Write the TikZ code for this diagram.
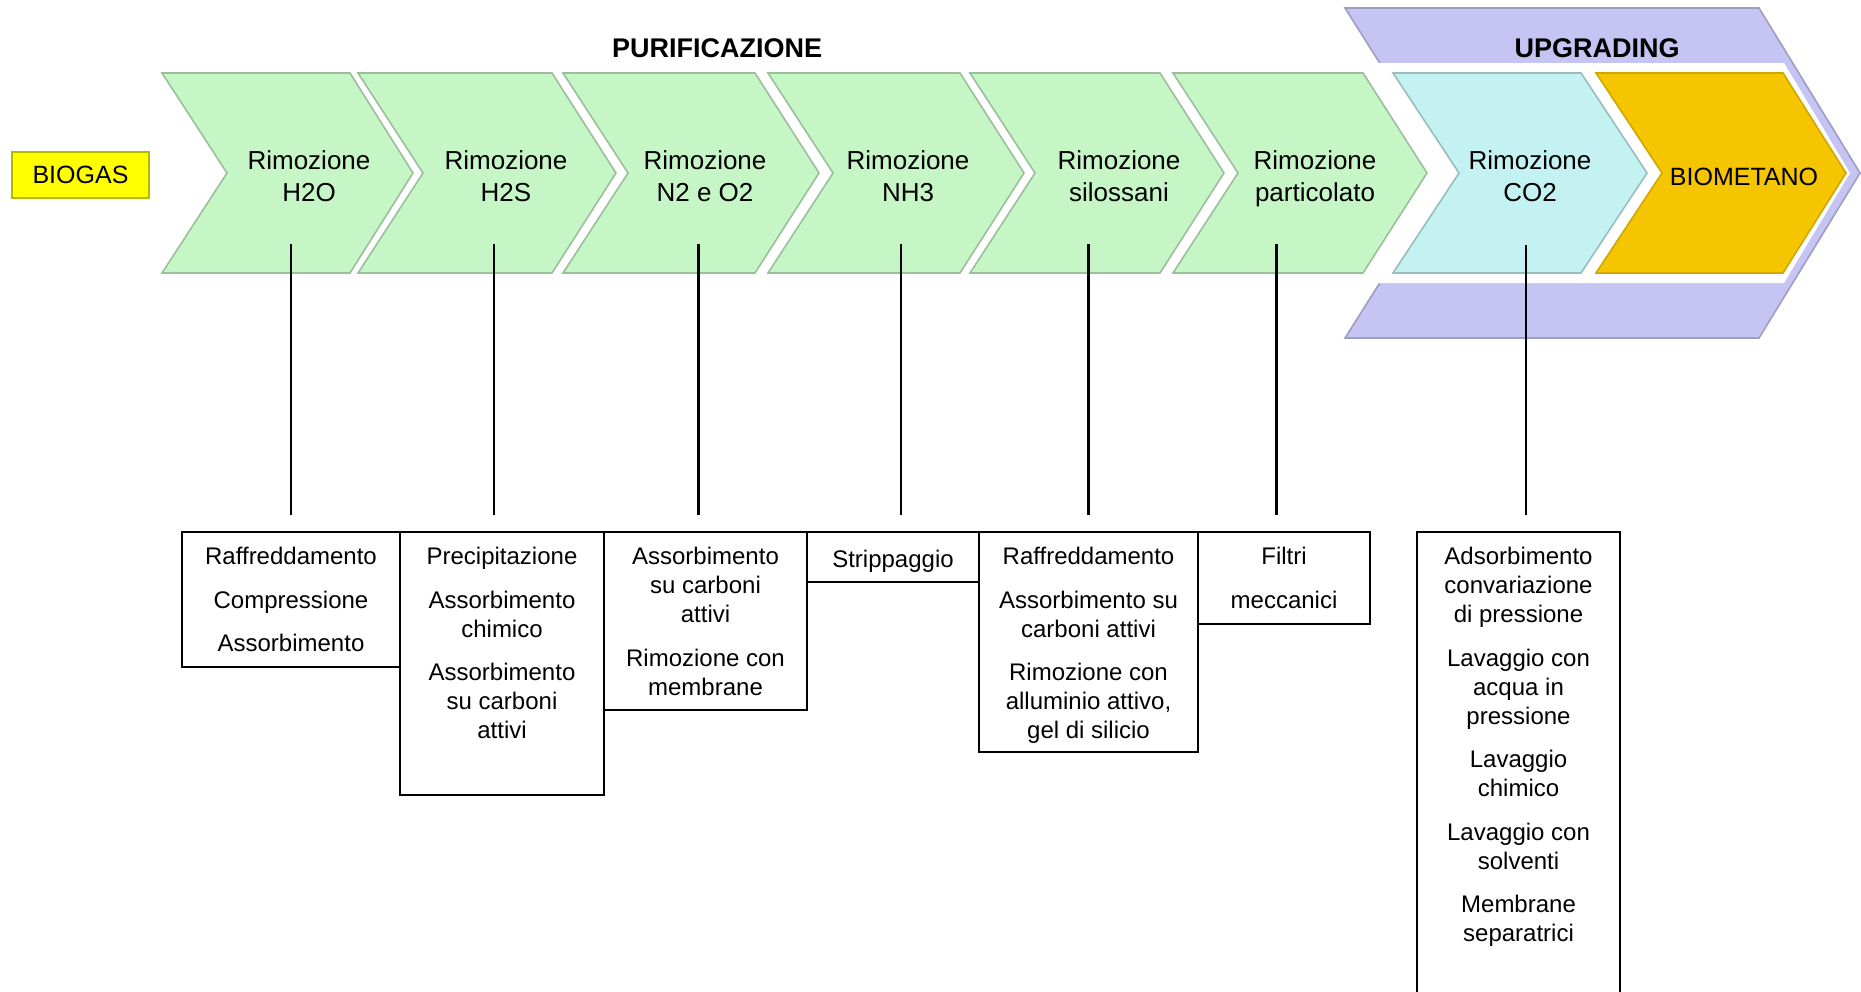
\documentclass[tikz,border=0pt]{standalone}
\usepackage{fontspec}
\setmainfont{Liberation Sans}
\usepackage{tikz}
\usetikzlibrary{positioning}
\definecolor{stepgreen}{RGB}{198,245,198}
\definecolor{stepcyan}{RGB}{196,242,242}
\definecolor{stepgold}{RGB}{245,197,0}
\definecolor{bandpurple}{RGB}{197,196,242}
\definecolor{biogasyellow}{RGB}{255,255,0}
\tikzstyle{green step}=[fill=stepgreen,draw=stepgreen!78!black,line width=0.8pt]
\tikzstyle{cyan step}=[fill=stepcyan,draw=stepcyan!78!black,line width=0.8pt]
\tikzstyle{gold step}=[fill=stepgold,draw=stepgold!85!black,line width=0.8pt]
\tikzstyle{band}=[fill=bandpurple,draw=bandpurple!80!black,line width=0.8pt]
\tikzstyle{step label}=[align=center,inner sep=0pt,anchor=north,font=\fontsize{13}{16}\selectfont,execute at begin node=\strut]
\tikzstyle{gold label}=[inner sep=0pt,anchor=base,font=\fontsize{12.5}{15}\selectfont]
\tikzstyle{biogas}=[rectangle,fill=biogasyellow,draw=biogasyellow!72!black,line width=1pt,minimum width=68.5pt,minimum height=23pt,inner sep=0pt,font=\fontsize{12.5}{15}\selectfont]
\tikzstyle{title}=[inner sep=0pt,anchor=base,font=\fontsize{13.5}{16}\selectfont\bfseries]
\tikzstyle{box}=[rectangle,draw,line width=1.1pt,inner sep=0pt]
\tikzstyle{box label}=[align=center,inner sep=0pt,font=\fontsize{12}{14.5}\selectfont,execute at begin node=\strut]
\tikzstyle{edge}=[draw,line width=1pt,-]
\tikzstyle{thick edge}=[draw,line width=1.5pt,-]

\begin{document}
\begin{tikzpicture}[x=0.5pt,y=-0.5pt]
        \useasboundingbox (0,0) rectangle (1861,991);
        % upgrading frame
        \draw[band] (1345,8) -- (1759,8) -- (1860,173) -- (1759,338) -- (1345,338) -- (1449,173) -- cycle;
        \fill[white] (1340,63) -- (1784,63) -- (1850,173) -- (1784,283) -- (1340,283) -- cycle;
        % steps
        \draw[green step] (162,73) -- ++(188,0) -- ++(63,100) -- ++(-63,100) -- ++(-188,0) -- ++(65,-100) -- cycle;
        \draw[green step] (358,73) -- ++(194,0) -- ++(64,100) -- ++(-64,100) -- ++(-194,0) -- ++(65,-100) -- cycle;
        \draw[green step] (563,73) -- ++(192,0) -- ++(64,100) -- ++(-64,100) -- ++(-192,0) -- ++(65,-100) -- cycle;
        \draw[green step] (768,73) -- ++(192,0) -- ++(64,100) -- ++(-64,100) -- ++(-192,0) -- ++(65,-100) -- cycle;
        \draw[green step] (970,73) -- ++(190,0) -- ++(64,100) -- ++(-64,100) -- ++(-190,0) -- ++(65,-100) -- cycle;
        \draw[green step] (1173,73) -- ++(190,0) -- ++(64,100) -- ++(-64,100) -- ++(-190,0) -- ++(65,-100) -- cycle;
        \draw[cyan step] (1393,73) -- ++(188,0) -- ++(66,100) -- ++(-66,100) -- ++(-188,0) -- ++(66,-100) -- cycle;
        \draw[gold step] (1596,73) -- ++(187,0) -- ++(63,100) -- ++(-63,100) -- ++(-187,0) -- ++(66,-100) -- cycle;
        \node[step label] (h2o) at (309,150.2) {Rimozione\\H2O};
        \node[step label] (h2s) at (506,150.2) {Rimozione\\H2S};
        \node[step label] (n2o2) at (705,150.2) {Rimozione\\N2 e O2};
        \node[step label] (nh3) at (908,150.2) {Rimozione\\NH3};
        \node[step label] (silox) at (1119,150.2) {Rimozione\\silossani};
        \node[step label] (partic) at (1315,150.2) {Rimozione\\particolato};
        \node[step label] (co2) at (1530,150.2) {Rimozione\\CO2};
        \node[gold label] (biomet) at (1744,185) {BIOMETANO};
        \node[biogas] (biogas) at (80.5,175) {BIOGAS};
        \node[title] (purif) at (717,57) {PURIFICAZIONE};
        \node[title] (upgr) at (1597,57) {UPGRADING};
        % boxes
        \node[box,minimum width=109pt,minimum height=67.5pt] (b1) at (291,599.5) {};
        \node[box,minimum width=102pt,minimum height=131.5pt] (b2) at (502,663.5) {};
        \node[box,minimum width=101.5pt,minimum height=89pt] (b3) at (705.5,621) {};
        \node[box,minimum width=86pt,minimum height=25pt] (b4) at (893,557) {};
        \node[box,minimum width=109.5pt,minimum height=110pt] (b5) at (1088.5,642) {};
        \node[box,minimum width=86pt,minimum height=46pt] (b6) at (1284,578) {};
        \node[box,minimum width=101.5pt,minimum height=234pt] (b7) at (1518.5,766) {};
        \node[box label,below=7.9pt of b1.north] (t1) {Raffreddamento\\[7.25pt]Compressione\\[7.25pt]Assorbimento};
        \node[box label,below=7.9pt of b2.north] (t2) {Precipitazione\\[7.25pt]Assorbimento\\chimico\\[7.25pt]Assorbimento\\su carboni\\attivi};
        \node[box label,below=7.9pt of b3.north] (t3) {Assorbimento\\su carboni\\attivi\\[7.25pt]Rimozione con\\membrane};
        \node[box label,below=7.9pt of b4.north] (t4) {Strippaggio};
        \node[box label,below=7.9pt of b5.north] (t5) {Raffreddamento\\[7.25pt]Assorbimento su\\carboni attivi\\[7.25pt]Rimozione con\\alluminio attivo,\\gel di silicio};
        \node[box label,below=7.9pt of b6.north] (t6) {Filtri\\[7.25pt]meccanici};
        \node[box label,below=7.9pt of b7.north] (t7) {Adsorbimento\\convariazione\\di pressione\\[7.25pt]Lavaggio con\\acqua in\\pressione\\[7.25pt]Lavaggio\\chimico\\[7.25pt]Lavaggio con\\solventi\\[7.25pt]Membrane\\separatrici};
        % links
        \coordinate (h2o top) at (291,244);
        \coordinate (h2o end) at (291,515);
        \coordinate (h2s top) at (494,244);
        \coordinate (h2s end) at (494,515);
        \coordinate (n2o2 top) at (698,244);
        \coordinate (n2o2 end) at (698,515);
        \coordinate (nh3 top) at (901,244);
        \coordinate (nh3 end) at (901,515);
        \coordinate (silox top) at (1088,244);
        \coordinate (silox end) at (1088,515);
        \coordinate (partic top) at (1276,244);
        \coordinate (partic end) at (1276,515);
        \coordinate (co2 top) at (1526,245);
        \coordinate (co2 end) at (1526,515);
        \draw[edge] (h2o top) to (h2o end);
        \draw[edge] (h2s top) to (h2s end);
        \draw[thick edge] (n2o2 top) to (n2o2 end);
        \draw[edge] (nh3 top) to (nh3 end);
        \draw[thick edge] (silox top) to (silox end);
        \draw[thick edge] (partic top) to (partic end);
        \draw[edge] (co2 top) to (co2 end);
\end{tikzpicture}
\end{document}
